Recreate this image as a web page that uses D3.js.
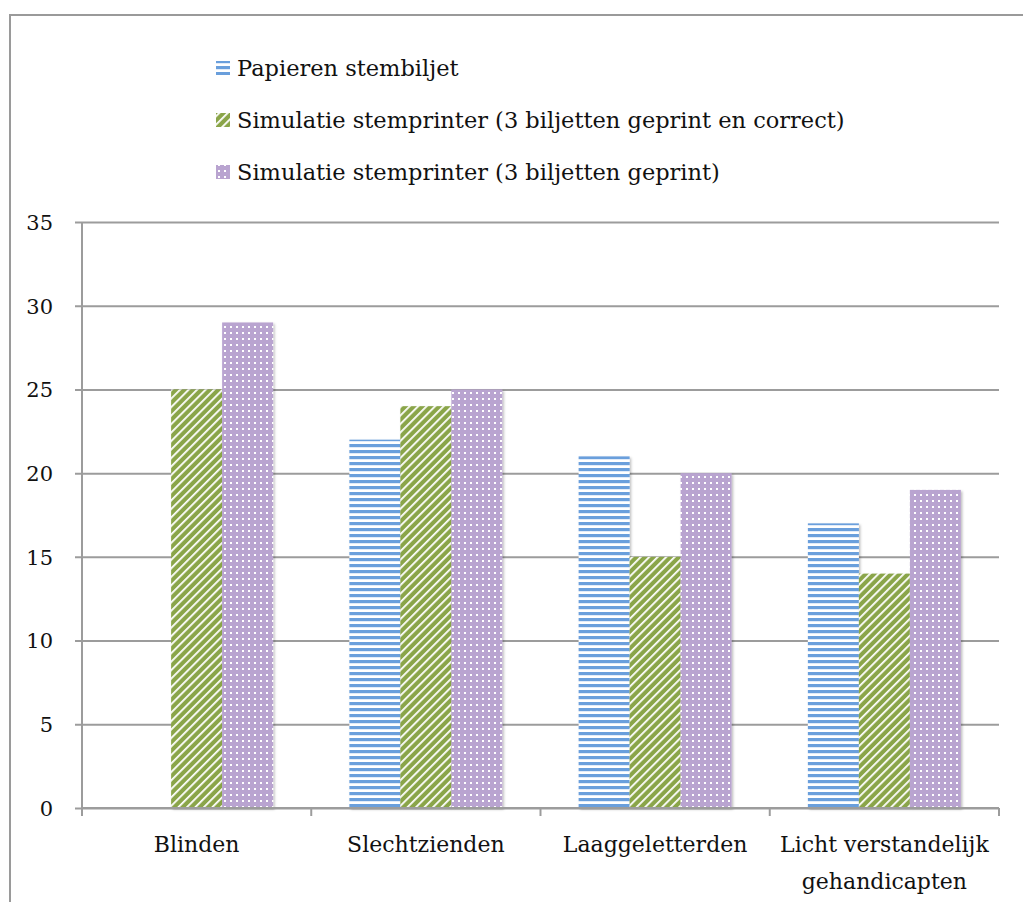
<!DOCTYPE html>
<html>
<head>
<meta charset="utf-8">
<script src="https://cdn.jsdelivr.net/npm/d3@7"></script>
<style>
  body { margin: 0; background: #fff; }
  text { font-family: "DejaVu Serif", "Liberation Serif", serif; fill: #111; }
</style>
</head>
<body>
<svg id="chart" width="1023" height="902"></svg>
<script>
const categories = ["Blinden", "Slechtzienden", "Laaggeletterden", "Licht verstandelijk\ngehandicapten"];
const seriesNames = [
  "Papieren stembiljet",
  "Simulatie stemprinter (3 biljetten geprint en correct)",
  "Simulatie stemprinter (3 biljetten geprint)"
];
const papieren = [0, 22, 21, 17];
const correct = [25, 24, 15, 14];
const geprint = [29, 25, 20, 19];
const yTicks = [0, 5, 10, 15, 20, 25, 30, 35];

const series = [papieren, correct, geprint];
const colors = ["#6a9fdc", "#8aa548", "#b9a4d0"];

const svg = d3.select("#chart");
const margin = { left: 82, right: 1023 - 999, top: 222, bottom: 902 - 808 };
const width = 1023, height = 902;

// outer frame (only top and left edge are visible)
svg.append("path")
  .attr("d", "M10,1000 L10,15 L1100,15")
  .attr("fill", "none").attr("stroke", "#9a9a9a").attr("stroke-width", 2);

// patterns
const defs = svg.append("defs");
const p0 = defs.append("pattern").attr("id", "pat0").attr("patternUnits", "userSpaceOnUse")
  .attr("width", 6).attr("height", 6);
p0.append("rect").attr("width", 6).attr("height", 6).attr("fill", "#fff");
p0.append("rect").attr("y", 0).attr("width", 6).attr("height", 3.2).attr("fill", colors[0]);

const p1 = defs.append("pattern").attr("id", "pat1").attr("patternUnits", "userSpaceOnUse")
  .attr("width", 6).attr("height", 6).attr("patternTransform", "rotate(45)");
p1.append("rect").attr("width", 6).attr("height", 6).attr("fill", colors[1]);
p1.append("rect").attr("x", 0).attr("width", 1.8).attr("height", 6).attr("fill", "#fff");

const p2 = defs.append("pattern").attr("id", "pat2").attr("patternUnits", "userSpaceOnUse")
  .attr("width", 6).attr("height", 6);
p2.append("rect").attr("width", 6).attr("height", 6).attr("fill", colors[2]);
p2.append("rect").attr("x", 2).attr("y", 2).attr("width", 2).attr("height", 2).attr("fill", "#fff");

const shadow = defs.append("filter").attr("id", "shadow")
  .attr("x", "-10%").attr("y", "-10%").attr("width", "130%").attr("height", "130%");
shadow.append("feDropShadow").attr("dx", 1.5).attr("dy", 1.5).attr("stdDeviation", 1.2)
  .attr("flood-color", "#000").attr("flood-opacity", 0.25);

const x = d3.scaleBand().domain(categories).range([margin.left, width - margin.right]);
const y = d3.scaleLinear().domain([0, 35]).range([height - margin.bottom, margin.top]);
const bw = 51;
const x1 = d3.scaleBand().domain(d3.range(3)).range([0, bw * 3]);
const pad = (x.bandwidth() - bw * 3) / 2;

// gridlines + y ticks
const yAxis = svg.append("g").attr("transform", `translate(${margin.left},0)`)
  .call(d3.axisLeft(y).tickValues(yTicks).tickSize(7).tickSizeInner(-(width - margin.left - margin.right)).tickPadding(0));
yAxis.select(".domain").remove();
yAxis.selectAll(".tick line").attr("stroke", "#9c9c9c").attr("stroke-width", 2).attr("x1", -7);
yAxis.selectAll(".tick text").attr("x", -29).attr("font-size", 21).attr("text-anchor", "end").attr("dy", "0.35em");

// y axis line
svg.append("line").attr("x1", margin.left).attr("x2", margin.left)
  .attr("y1", y(35)).attr("y2", y(0)).attr("stroke", "#9c9c9c").attr("stroke-width", 2);

// bars
categories.forEach((c, ci) => {
  series.forEach((s, si) => {
    if (s[ci] <= 0) return;
    svg.append("rect")
      .attr("x", x(c) + pad + x1(si))
      .attr("y", y(s[ci]))
      .attr("width", x1.bandwidth())
      .attr("height", y(0) - y(s[ci]))
      .attr("fill", `url(#pat${si})`)
      .attr("filter", "url(#shadow)");
  });
});

// x axis
svg.append("line").attr("x1", margin.left).attr("x2", width - margin.right)
  .attr("y1", y(0)).attr("y2", y(0)).attr("stroke", "#9c9c9c").attr("stroke-width", 2);
const bounds = categories.map(c => x(c)).concat([width - margin.right]);
svg.selectAll(".xtick").data(bounds).enter().append("line")
  .attr("x1", d => d).attr("x2", d => d)
  .attr("y1", y(0)).attr("y2", y(0) + 8)
  .attr("stroke", "#9c9c9c").attr("stroke-width", 2);

categories.forEach(c => {
  const lines = c.split("\n");
  const t = svg.append("text").attr("text-anchor", "middle").attr("font-size", 22)
    .attr("x", x(c) + x.bandwidth() / 2).attr("y", 852);
  lines.forEach((l, i) => t.append("tspan").attr("x", x(c) + x.bandwidth() / 2)
    .attr("dy", i === 0 ? 0 : 37).text(l));
});

// legend
const legend = svg.append("g");
seriesNames.forEach((n, i) => {
  const yy = 68 + i * 52;
  legend.append("rect").attr("x", 216).attr("y", yy - 7).attr("width", 14).attr("height", 14)
    .attr("fill", `url(#pat${i})`);
  legend.append("text").attr("x", 237).attr("y", yy).attr("dy", "0.35em")
    .attr("font-size", 22.5).text(n);
});
</script>
</body>
</html>
